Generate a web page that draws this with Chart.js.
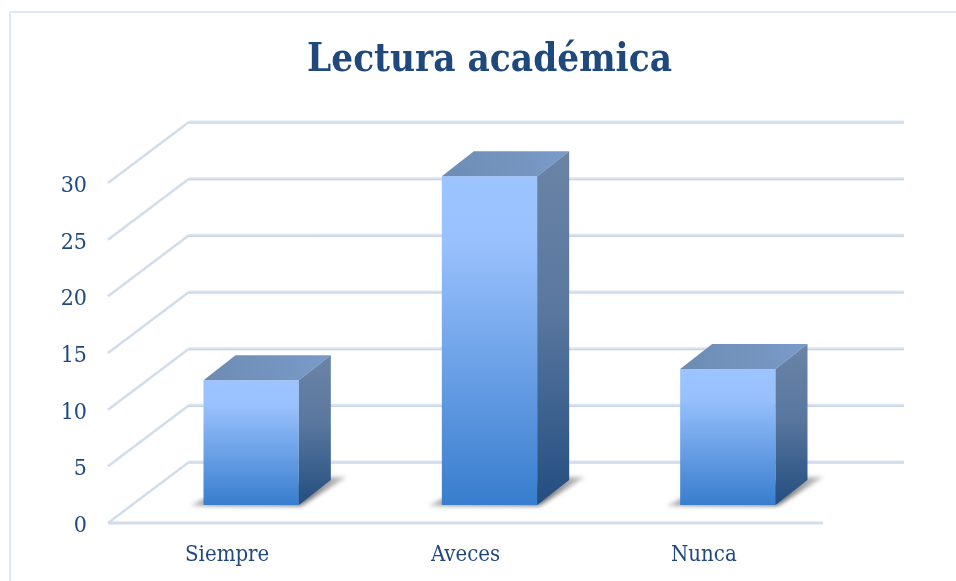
<!DOCTYPE html>
<html lang="es">
<head>
<meta charset="utf-8">
<title>Lectura académica</title>
<script src="https://cdn.jsdelivr.net/npm/chart.js@4"></script>
<style>
  html, body { margin: 0; padding: 0; background: #fff; overflow: hidden; }
  canvas { display: block; }
</style>
</head>
<body>
<canvas id="grafico" width="956" height="581"></canvas>
<script>
/* valores */
const categorias = ['Siempre', 'Aveces', 'Nunca'];
const valores = [11, 29, 12];
const tituloTexto = 'Lectura académica';

const FUENTE = '"DejaVu Serif Condensed", "Liberation Serif", serif';
const COLOR_TEXTO = '#1f497d';

/* profundidad de la caja 3D y de las barras, en px */
const PARED = { dx: 81, dy: -61 };
const BARRA_INICIO = { dx: 24, dy: -18 };
const BARRA_FONDO = { dx: 32, dy: -25 };

function linea(ctx, x1, y1, x2, y2, color, ancho) {
    ctx.strokeStyle = color;
    ctx.lineWidth = ancho;
    ctx.beginPath();
    ctx.moveTo(x1, y1);
    ctx.lineTo(x2, y2);
    ctx.stroke();
}

function poligono(ctx, puntos, relleno) {
    ctx.fillStyle = relleno;
    ctx.beginPath();
    puntos.forEach((p, i) => i === 0 ? ctx.moveTo(p[0], p[1]) : ctx.lineTo(p[0], p[1]));
    ctx.closePath();
    ctx.fill();
}

/* dibuja marco, paredes y sombras debajo de las barras */
const caja3d = {
    id: 'caja3d',
    afterLayout(chart) {
        /* el título va centrado en la caja completa, no en el área de la gráfica */
        chart.titleBlock.left = 307;
        chart.titleBlock.right = 672;
    },
    beforeDatasetsDraw(chart) {
        const ctx = chart.ctx;
        const area = chart.chartArea;
        const y = chart.scales.y;
        ctx.save();

        /* marco exterior */
        linea(ctx, 10, 12, 956, 12, '#dde7f5', 2);
        linea(ctx, 10, 12, 10, 581, '#dde7f5', 2);

        /* líneas de la pared izquierda y del fondo */
        y.ticks.forEach((t) => {
            const py = y.getPixelForValue(t.value);
            linea(ctx, area.left, py, area.left + PARED.dx, py + PARED.dy, '#d2ddec', 2.5);
            linea(ctx, area.left + PARED.dx, py + PARED.dy, area.right + PARED.dx, py + PARED.dy, '#d9e3f1', 3);
            linea(ctx, area.left + PARED.dx, py + PARED.dy + 1, area.right + PARED.dx, py + PARED.dy + 1, '#c9d1dd', 1);
        });
        const base = y.getPixelForValue(0);
        linea(ctx, area.left, base, area.right, base, '#d3dcea', 3);

        /* sombras sobre el piso, más claras hacia las puntas */
        const meta = chart.getDatasetMeta(0);
        ctx.filter = 'blur(2px)';
        meta.data.forEach((bar) => {
            const izq = bar.x - bar.width / 2 + BARRA_INICIO.dx;
            const der = bar.x + bar.width / 2 + BARRA_INICIO.dx;
            const py = base + BARRA_INICIO.dy;
            const tonoSombra = ctx.createLinearGradient(izq - 14, 0, der + BARRA_FONDO.dx + 16, 0);
            tonoSombra.addColorStop(0, 'rgba(70, 70, 70, 0.25)');
            tonoSombra.addColorStop(0.12, 'rgba(70, 70, 70, 0.55)');
            tonoSombra.addColorStop(0.75, 'rgba(60, 60, 60, 0.7)');
            tonoSombra.addColorStop(1, 'rgba(90, 90, 90, 0.3)');
            poligono(ctx, [
                [izq - 14, py + 1],
                [izq, py - 6],
                [der + BARRA_FONDO.dx, py + BARRA_FONDO.dy - 3],
                [der + BARRA_FONDO.dx + 16, py + BARRA_FONDO.dy - 3],
                [der + 2, py + 1],
                [izq, py + 1]
            ], tonoSombra);
        });
        ctx.filter = 'none';
        ctx.restore();

        /* la cara frontal la pinta Chart.js, desplazada hacia el fondo */
        ctx.save();
        ctx.translate(BARRA_INICIO.dx, BARRA_INICIO.dy);
    },
    afterDatasetsDraw(chart) {
        const ctx = chart.ctx;
        ctx.restore();
        ctx.save();
        const meta = chart.getDatasetMeta(0);
        meta.data.forEach((bar) => {
            const izq = bar.x - bar.width / 2 + BARRA_INICIO.dx;
            const der = bar.x + bar.width / 2 + BARRA_INICIO.dx;
            const arriba = bar.y + BARRA_INICIO.dy;
            const abajo = bar.base + BARRA_INICIO.dy;
            const fx = BARRA_FONDO.dx;
            const fy = BARRA_FONDO.dy;

            /* cara superior */
            const gradSup = ctx.createLinearGradient(izq, arriba, der + fx, arriba + fy);
            gradSup.addColorStop(0, '#6d8cb3');
            gradSup.addColorStop(1, '#7a9bc9');
            poligono(ctx, [[izq, arriba], [izq + fx, arriba + fy], [der + fx, arriba + fy], [der, arriba]], gradSup);

            /* cara lateral */
            const gradLat = ctx.createLinearGradient(0, arriba + fy, 0, abajo);
            gradLat.addColorStop(0, '#6a84a6');
            gradLat.addColorStop(0.45, '#5a779f');
            gradLat.addColorStop(1, '#234e80');
            poligono(ctx, [[der, arriba], [der + fx, arriba + fy], [der + fx, abajo + fy], [der, abajo]], gradLat);
        });
        ctx.restore();
    }
};

new Chart(document.getElementById('grafico'), {
    type: 'bar',
    data: {
        labels: categorias,
        datasets: [{
            data: valores,
            barPercentage: 0.4,
            categoryPercentage: 1,
            backgroundColor: (c) => {
                const y = c.chart.scales.y;
                if (!y || c.dataIndex === undefined) return '#9cc4ff';
                const arriba = y.getPixelForValue(valores[c.dataIndex]);
                const abajo = y.getPixelForValue(0);
                /* antes del primer layout los píxeles aún no son finitos */
                if (!Number.isFinite(arriba) || !Number.isFinite(abajo)) return '#9cc4ff';
                const grad = c.chart.ctx.createLinearGradient(0, arriba, 0, abajo);
                grad.addColorStop(0, '#9cc4ff');
                grad.addColorStop(0.2, '#99c1fd');
                grad.addColorStop(1, '#387dce');
                return grad;
            }
        }]
    },
    plugins: [caja3d],
    options: {
        responsive: false,
        animation: false,
        layout: { padding: { left: 0, right: 133, top: 0, bottom: 0 } },
        plugins: {
            legend: { display: false },
            tooltip: { enabled: false },
            title: {
                display: true,
                text: tituloTexto,
                color: COLOR_TEXTO,
                font: { family: FUENTE, size: 40, weight: 'bold', lineHeight: 1.2 },
                padding: { top: 37, bottom: 98 }
            }
        },
        scales: {
            x: {
                afterFit: (escala) => { escala.height = 58; },
                grid: { display: false },
                border: { display: false },
                ticks: { color: COLOR_TEXTO, font: { family: FUENTE, size: 22 }, padding: 11 }
            },
            y: {
                min: 0,
                max: 30,
                afterFit: (escala) => { escala.width = 108; },
                grid: { display: false },
                border: { display: false },
                ticks: { stepSize: 5, color: COLOR_TEXTO, font: { family: FUENTE, size: 23 }, padding: 13, labelOffset: 3 }
            }
        }
    }
});
</script>
</body>
</html>
